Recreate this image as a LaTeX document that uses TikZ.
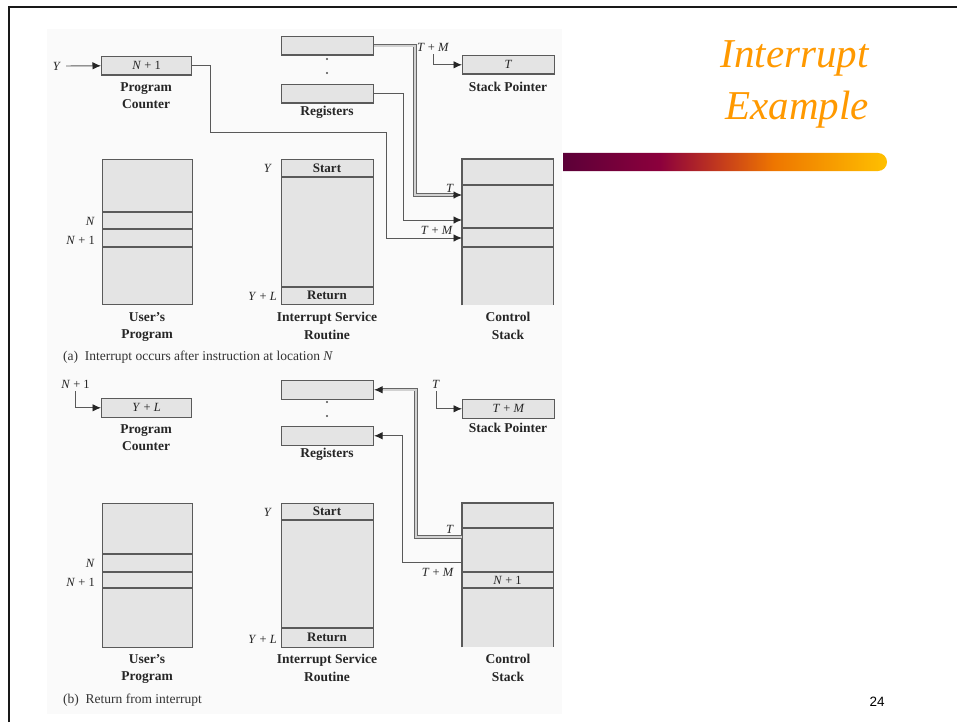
\documentclass[tikz,border=0pt]{standalone}
\usepackage{fontspec}
\setmainfont{Liberation Serif}
\newfontfamily\pagefont{Liberation Sans}
\usetikzlibrary{arrows.meta,calc}
\definecolor{boxfill}{HTML}{E4E4E4}
\definecolor{boxline}{HTML}{5A5A5A}
\definecolor{titleorange}{HTML}{FF9900}
\definecolor{barA}{HTML}{5C0038}
\definecolor{barB}{HTML}{8C003C}
\definecolor{barC}{HTML}{C8401A}
\definecolor{barD}{HTML}{EE7600}
\definecolor{barE}{HTML}{FFC000}
\pgfdeclarehorizontalshading{barshade}{100bp}{color(0bp)=(barA); color(25bp)=(barA); color(40bp)=(barB); color(50bp)=(barC); color(57.5bp)=(barD); color(75bp)=(barE); color(100bp)=(barE)}
\begin{document}
\begin{tikzpicture}[x=1pt,y=1pt,
  box/.style={draw=boxline, fill=boxfill, line width=1.1pt, inner sep=0pt, anchor=north west,
              font=\fontsize{12.5}{14}\selectfont, text=black!85},
  lab/.style={font=\bfseries\fontsize{13.5}{17.5}\selectfont, align=center, inner sep=0pt, anchor=north, text=black!85},
  var/.style={font=\fontsize{12.5}{14}\selectfont, inner sep=0pt, text=black!85},
  intxt/.style={font=\bfseries\fontsize{13}{14}\selectfont, inner sep=0pt, text=black!85},
  captxt/.style={font=\fontsize{13.5}{15}\selectfont, inner sep=0pt, anchor=west, text=black!80},
  conn/.style={draw=black!65, line width=0.9pt},
  arrtip/.style={-{Latex[length=8.5pt,width=7.5pt,color=black!85]}},
  arr/.style={conn, arrtip},
  pipe/.style={draw=black!60, line width=0.7pt, double=black!18, double distance=1.8pt},
  sepline/.style={draw=boxline, line width=1.1pt},
  dotfill/.style={fill=black!70},
]
\useasboundingbox (0,0) rectangle (957,-722);
\fill[white] (0,0) rectangle (957,-722);
\fill[black!2] (47,-29) rectangle (562,-714);

% ---------------- (a) ----------------
\node[box, minimum width=90pt, minimum height=18.5pt] (pcA) at (101,-56) {\textit{N} + 1};
\node[lab] (pcAl) at (146,-82) {Program\\Counter};
\node[var] (yA) at (57,-66) {\textit{Y}};

\node[box, minimum width=92pt, minimum height=18.5pt] (regA1) at (281,-36) {};
\node[box, minimum width=92pt, minimum height=18.5pt] (regA2) at (281,-84) {};
\fill[dotfill] (327,-59) circle (1.1);
\fill[dotfill] (327,-73) circle (1.1);
\node[lab] (regAl) at (327,-106) {Registers};

\node[box, minimum width=92pt, minimum height=18.5pt] (spA) at (462,-55) {\textit{T}};
\node[lab] (spAl) at (508,-82) {Stack Pointer};
\node[var] (tmA) at (433,-47) {\textit{T} + \textit{M}};

\node[box, minimum width=90pt, minimum height=145pt] (upA) at (102,-159) {};
\draw[sepline] (102,-212) -- (192,-212);
\draw[sepline] (102,-229) -- (192,-229);
\draw[sepline] (102,-247) -- (192,-247);
\node[var, anchor=east] (upAn) at (95,-221) {\textit{N}};
\node[var, anchor=east] (upAn1) at (95,-240) {\textit{N} + 1};
\node[lab] (upAl) at (147,-312) {User's\\Program};

\node[box, minimum width=92pt, minimum height=145pt] (isrA) at (281,-159) {};
\draw[sepline] (281,-177) -- (373,-177);
\draw[sepline] (281,-287) -- (373,-287);
\node[intxt] (isrAs) at (327,-168) {Start};
\node[intxt] (isrAr) at (327,-295.5) {Return};
\node[var] (isrAy) at (268,-168) {\textit{Y}};
\node[var, anchor=east] (isrAyl) at (277,-296) {\textit{Y} + \textit{L}};
\node[lab] (isrAl) at (327,-312) {Interrupt Service\\Routine};

\node[fill=boxfill, inner sep=0pt, anchor=north west, minimum width=91pt, minimum height=146pt] (csA) at (462,-159) {};
\draw[sepline] (csA.south west) -- (csA.north west) -- (csA.north east) -- (csA.south east);
\draw[sepline] (462,-185) -- (553,-185);
\draw[sepline] (462,-228) -- (553,-228);
\draw[sepline] (462,-247) -- (553,-247);
\node[var] (csAt) at (450,-188) {\textit{T}};
\node[var, anchor=east] (csAtm) at (453,-230) {\textit{T} + \textit{M}};
\node[lab] (csAl) at (508,-312) {Control\\Stack};

\node[captxt] (capA) at (63,-357) {(a)\enspace Interrupt occurs after instruction at location \textit{N}};

% connectors (a)
\draw[arr, shorten <=5pt] (yA.east) -- (pcA.west);
\draw[arr, shorten <=3pt] (tmA.south) |- (spA.west);
\coordinate (pa1) at (210,-132);
\coordinate (pa2) at (386,-238);
\draw[arr] (pcA.east) -| (pa1) -| (pa2) -- (csA.west |- pa2);
\coordinate (ra1) at (415,-195);
\draw[pipe] (regA1.east) -| (ra1) -- ($(csA.west |- ra1)+(-6,0)$);
\draw[arr] ($(csA.west |- ra1)+(-9,0)$) -- (csA.west |- ra1);
\coordinate (ra2) at (403,-220);
\draw[arr] (regA2.east) -| (ra2) -- (csA.west |- ra2);

% ---------------- (b) ----------------
\node[box, minimum width=90pt, minimum height=18.5pt] (pcB) at (101,-398) {\textit{Y} + \textit{L}};
\node[lab] (pcBl) at (146,-424) {Program\\Counter};
\node[var] (nB) at (75.5,-384) {\textit{N} + 1};

\node[box, minimum width=92pt, minimum height=18.5pt] (regB1) at (281,-380) {};
\node[box, minimum width=92pt, minimum height=18.5pt] (regB2) at (281,-426) {};
\fill[dotfill] (327,-402) circle (1.1);
\fill[dotfill] (327,-416) circle (1.1);
\node[lab] (regBl) at (327,-448) {Registers};

\node[box, minimum width=92pt, minimum height=18.5pt] (spB) at (462,-399) {\textit{T} + \textit{M}};
\node[lab] (spBl) at (508,-423) {Stack Pointer};
\node[var] (tB) at (436,-384) {\textit{T}};

\node[box, minimum width=90pt, minimum height=144pt] (upB) at (102,-503) {};
\draw[sepline] (102,-554) -- (192,-554);
\draw[sepline] (102,-572) -- (192,-572);
\draw[sepline] (102,-588) -- (192,-588);
\node[var, anchor=east] (upBn) at (95,-563) {\textit{N}};
\node[var, anchor=east] (upBn1) at (95,-582) {\textit{N} + 1};
\node[lab] (upBl) at (147,-654) {User's\\Program};

\node[box, minimum width=92pt, minimum height=144pt] (isrB) at (281,-503) {};
\draw[sepline] (281,-520) -- (373,-520);
\draw[sepline] (281,-628) -- (373,-628);
\node[intxt] (isrBs) at (327,-511.5) {Start};
\node[intxt] (isrBr) at (327,-637.5) {Return};
\node[var] (isrBy) at (268,-512) {\textit{Y}};
\node[var, anchor=east] (isrByl) at (277,-639) {\textit{Y} + \textit{L}};
\node[lab] (isrBl) at (327,-654) {Interrupt Service\\Routine};

\node[fill=boxfill, inner sep=0pt, anchor=north west, minimum width=91pt, minimum height=144pt] (csB) at (462,-503) {};
\draw[sepline] (csB.south west) -- (csB.north west) -- (csB.north east) -- (csB.south east);
\draw[sepline] (462,-528) -- (553,-528);
\draw[sepline] (462,-572) -- (553,-572);
\draw[sepline] (462,-588) -- (553,-588);
\node[var] (csBn) at (507.5,-580) {\textit{N} + 1};
\node[var] (csBt) at (450,-529) {\textit{T}};
\node[var, anchor=east] (csBtm) at (454,-572) {\textit{T} + \textit{M}};
\node[lab] (csBl) at (508,-654) {Control\\Stack};

\node[captxt] (capB) at (63,-700) {(b)\enspace Return from interrupt};

% connectors (b)
\draw[arr, shorten <=3pt] (nB.south) |- (pcB.west);
\draw[arr, shorten <=3pt] (tB.south) |- (spB.west);
\coordinate (rb1) at (416,-537);
\draw[pipe] (csB.west |- rb1) -| (rb1 |- regB1.east) -- ($(regB1.east)+(6,0)$);
\draw[arr] ($(regB1.east)+(9,0)$) -- (regB1.east);
\coordinate (rb2) at (402,-562);
\draw[arr] (csB.west |- rb2) -| (rb2 |- regB2.east) -- (regB2.east);

% ---------------- title, bar, page number, frame ----------------
\node[anchor=base east, font=\itshape\fontsize{41}{48}\selectfont, text=titleorange, inner sep=0pt] (t1) at (869,-68) {Interrupt};
\node[anchor=base east, font=\itshape\fontsize{41}{48}\selectfont, text=titleorange, inner sep=0pt] (t2) at (869,-120) {Example};
\shade[shading=barshade] (563,-153) -- (878,-153) arc[start angle=90, end angle=-90, radius=9] -- (563,-171) -- cycle;
\node[font=\pagefont\fontsize{13.5}{16}\selectfont, inner sep=0pt] (pg) at (877,-702) {24};
\draw[line width=2pt, black!90, line join=miter] (9,-722) -- (9,-7.5) -- (957,-7.5);
\end{tikzpicture}
\end{document}
